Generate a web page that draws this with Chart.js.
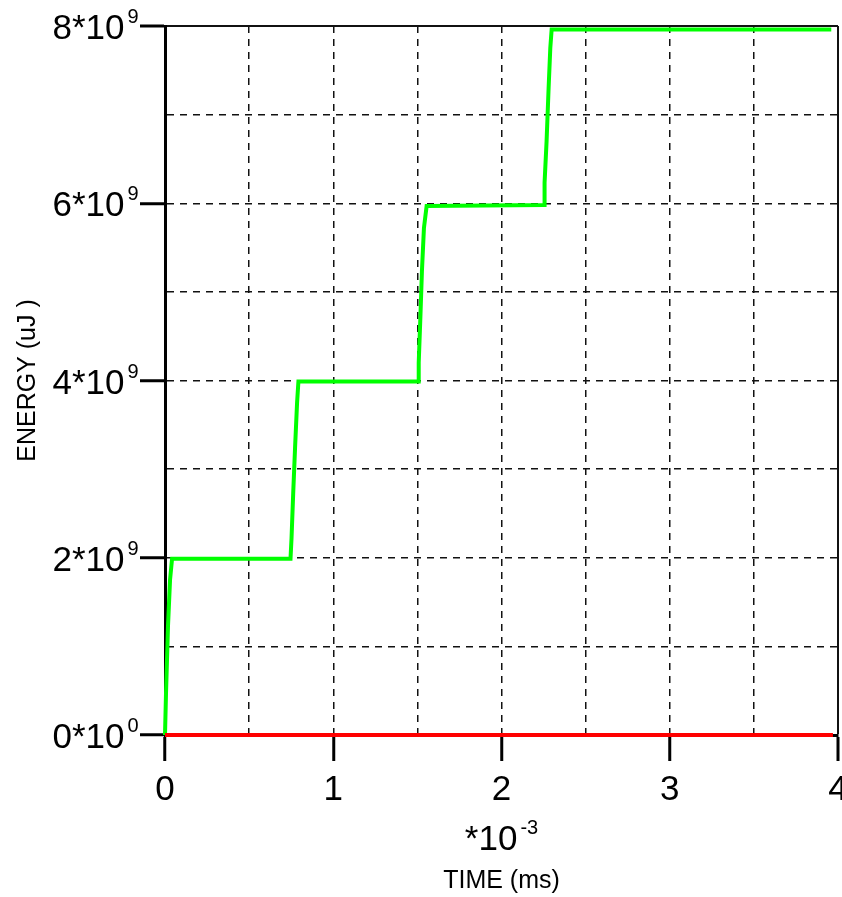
<!DOCTYPE html>
<html>
<head>
<meta charset="utf-8">
<script src="https://cdn.jsdelivr.net/npm/chart.js@4.4.1/dist/chart.umd.min.js"></script>
<style>
  body { margin: 0; background: #fff; }
  canvas { display: block; }
</style>
</head>
<body>
<canvas id="graficoEnergia" width="842" height="897"></canvas>
<script>
// tempo em unidades de 1e-3 ms, energia em uJ
const tempoVerde = [0, 0.006, 0.018, 0.030, 0.042, 0.746, 0.752, 0.762, 0.773, 0.785, 0.793,
    1.505, 1.508, 1.518, 1.527, 1.539, 1.555, 2.253, 2.256, 2.268, 2.280, 2.290, 2.298, 3.96];
const energiaVerde = [0, 0.47e9, 1.24e9, 1.75e9, 1.99e9, 1.99e9, 2.22e9, 2.73e9, 3.24e9, 3.75e9, 3.99e9,
    3.99e9, 4.2e9, 4.72e9, 5.23e9, 5.72e9, 5.97e9, 5.98e9, 6.23e9, 6.7e9, 7.3e9, 7.75e9, 7.96e9, 7.96e9];
const tempoVermelho = [0, 3.97];
const energiaVermelho = [0, 0];

const ticksX = [0, 1, 2, 3, 4];
const ticksY = [0, 2e9, 4e9, 6e9, 8e9];
const mantissaY = ['0', '2', '4', '6', '8'];
const expoenteY = ['0', '9', '9', '9', '9'];
const expoenteX = '-3';

const fonte = '"Liberation Sans", Arial, sans-serif';

function pontos(xs, ys) {
    return xs.map((x, i) => ({ x: x, y: ys[i] }));
}

function escrevePotencia(ctx, base, expo, x, y, alinha) {
    ctx.font = '35px ' + fonte;
    const lb = ctx.measureText(base).width;
    ctx.font = '20px ' + fonte;
    const le = ctx.measureText(expo).width;
    let inicio = alinha === 'right' ? x - lb : x - (lb + 3 + le) / 2;
    ctx.textAlign = 'left';
    ctx.textBaseline = 'alphabetic';
    ctx.font = '35px ' + fonte;
    ctx.fillText(base, inicio, y + 13);
    ctx.font = '20px ' + fonte;
    ctx.fillText(expo, inicio + lb + 3, y - 3);
}

// rotulos dos eixos (com expoente)
const rotulosPotencia = {
    id: 'rotulosPotencia',
    afterDraw(chart) {
        const { ctx, scales, chartArea } = chart;
        ctx.save();
        ctx.fillStyle = '#000';
        ticksY.forEach((v, i) => {
            escrevePotencia(ctx, mantissaY[i] + '*10', expoenteY[i], 124.5, scales.y.getPixelForValue(v), 'right');
        });
        ctx.font = '35px ' + fonte;
        ctx.textAlign = 'center';
        ctx.textBaseline = 'alphabetic';
        ticksX.forEach((v) => {
            ctx.fillText(String(v), scales.x.getPixelForValue(v), chartArea.bottom + 65);
        });
        escrevePotencia(ctx, '*10', expoenteX, (chartArea.left + chartArea.right) / 2, 837, 'center');
        ctx.restore();
    }
};

const valorTick = (c) => (c.tick ? c.tick.value : null);

new Chart(document.getElementById('graficoEnergia'), {
    type: 'scatter',
    data: {
        datasets: [{
            data: pontos(tempoVermelho, energiaVermelho),
            showLine: true,
            borderColor: '#ff0000',
            borderWidth: 4,
            pointRadius: 0,
            tension: 0,
            clip: false
        }, {
            data: pontos(tempoVerde, energiaVerde),
            showLine: true,
            borderColor: '#00ff00',
            borderWidth: 4,
            pointRadius: 0,
            tension: 0,
            clip: false
        }]
    },
    options: {
        responsive: false,
        animation: false,
        devicePixelRatio: 1,
        layout: { autoPadding: false, padding: { left: 0, top: 26, right: 4, bottom: 0 } },
        plugins: { legend: { display: false }, tooltip: { enabled: false } },
        scales: {
            x: {
                type: 'linear',
                min: 0,
                max: 4,
                ticks: { stepSize: 0.5, display: false },
                grid: {
                    color: (c) => valorTick(c) === 0 ? 'rgba(0,0,0,0)' : '#111',
                    lineWidth: (c) => valorTick(c) === 4 ? 2 : 1.5,
                    tickLength: 26,
                    tickWidth: 3,
                    tickColor: (c) => Number.isInteger(valorTick(c)) ? '#000' : 'rgba(0,0,0,0)'
                },
                border: {
                    display: true,
                    color: '#000',
                    width: 3,
                    dash: (c) => valorTick(c) === 4 ? [] : [7, 6]
                },
                title: {
                    display: true,
                    text: 'TIME (ms)',
                    color: '#000',
                    font: { family: fonte, size: 25 },
                    padding: { top: 105, bottom: 1 }
                }
            },
            y: {
                type: 'linear',
                min: 0,
                max: 8e9,
                ticks: { stepSize: 1e9, display: false },
                grid: {
                    color: (c) => valorTick(c) === 0 ? 'rgba(0,0,0,0)' : '#111',
                    lineWidth: (c) => valorTick(c) === 8e9 ? 2 : 1.5,
                    tickLength: 25,
                    tickWidth: 3,
                    tickColor: (c) => (valorTick(c) % 2e9 === 0) ? '#000' : 'rgba(0,0,0,0)'
                },
                border: {
                    display: true,
                    color: '#000',
                    width: 3,
                    dash: (c) => valorTick(c) === 8e9 ? [] : [7, 6]
                },
                title: {
                    display: true,
                    text: 'ENERGY (uJ )',
                    color: '#000',
                    font: { family: fonte, size: 25 },
                    padding: { top: 13, bottom: 97 }
                }
            }
        }
    },
    plugins: [rotulosPotencia]
});
</script>
</body>
</html>
